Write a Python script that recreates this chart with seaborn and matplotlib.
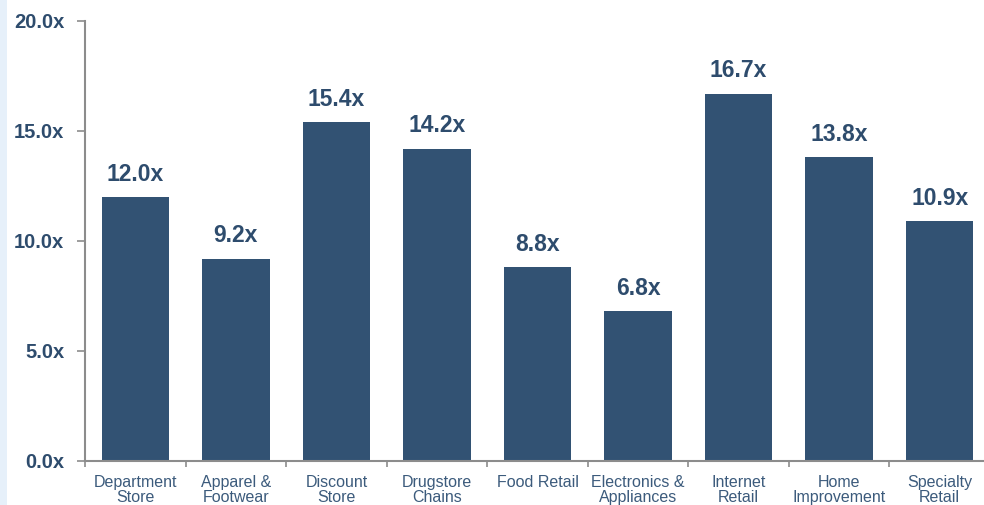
import matplotlib
matplotlib.use("Agg")
import matplotlib.pyplot as plt
from matplotlib.patches import Rectangle
from matplotlib.ticker import FixedLocator
import seaborn as sns
import pandas as pd
import numpy as np

categories = ["Department\nStore", "Apparel &\nFootwear", "Discount\nStore", "Drugstore\nChains",
              "Food Retail", "Electronics &\nAppliances", "Internet\nRetail", "Home\nImprovement",
              "Specialty\nRetail"]
values = [12.0, 9.2, 15.4, 14.2, 8.8, 6.8, 16.7, 13.8, 10.9]
value_labels = ["12.0x", "9.2x", "15.4x", "14.2x", "8.8x", "6.8x", "16.7x", "13.8x", "10.9x"]
y_ticks = [0, 5, 10, 15, 20]
y_tick_labels = ["0.0x", "5.0x", "10.0x", "15.0x", "20.0x"]

sns.set_style("white")
plt.rcParams["font.family"] = ["Liberation Sans", "DejaVu Sans"]

BAR = "#325273"
TXT = "#2E4C6D"
XTXT = "#3C5B7C"
AX = "#8C8C8C"

df = pd.DataFrame({"cat": categories, "val": values})

fig = plt.figure(figsize=(9.84, 5.05), dpi=100)
fig.patches.append(Rectangle((0, 0), 7 / 984, 1, transform=fig.transFigure,
                             facecolor="#E6F0FA", edgecolor="none", zorder=0))
ax = fig.add_axes([85 / 984, 44 / 505, 905 / 984, 440 / 505])
sns.barplot(data=df, x="cat", y="val", color=BAR, width=0.67, saturation=1, ax=ax,
            edgecolor="none")

ax.set_xlim(-0.5, len(categories) - 0.5)
ax.set_ylim(0, 20)
ax.set_yticks(y_ticks)
ax.set_yticklabels(y_tick_labels, fontsize=14.5, fontweight="bold", color=TXT)
ax.set_xticks(range(len(categories)))
ax.set_xticklabels(categories, fontsize=11.5, color=XTXT, linespacing=1.0)
ax.xaxis.set_minor_locator(FixedLocator(np.arange(-0.5, len(categories), 1.0)))
ax.tick_params(axis="x", which="major", length=0, pad=10)
ax.tick_params(axis="x", which="minor", length=4, width=1.2, color=AX, direction="out", bottom=True)
ax.tick_params(axis="y", which="major", length=6, width=1.2, color=AX, direction="out", pad=9, left=True)
ax.set_xlabel("")
ax.set_ylabel("")
for s in ["top", "right"]:
    ax.spines[s].set_visible(False)
for s in ["left", "bottom"]:
    ax.spines[s].set_color(AX)
    ax.spines[s].set_linewidth(1.5)

for i, (v, lab) in enumerate(zip(values, value_labels)):
    ax.annotate(lab, (i, v), xytext=(0, 8), textcoords="offset points",
                ha="center", va="bottom", fontsize=16.5, fontweight="bold", color=TXT)

fig.savefig("out.png", dpi=100)
